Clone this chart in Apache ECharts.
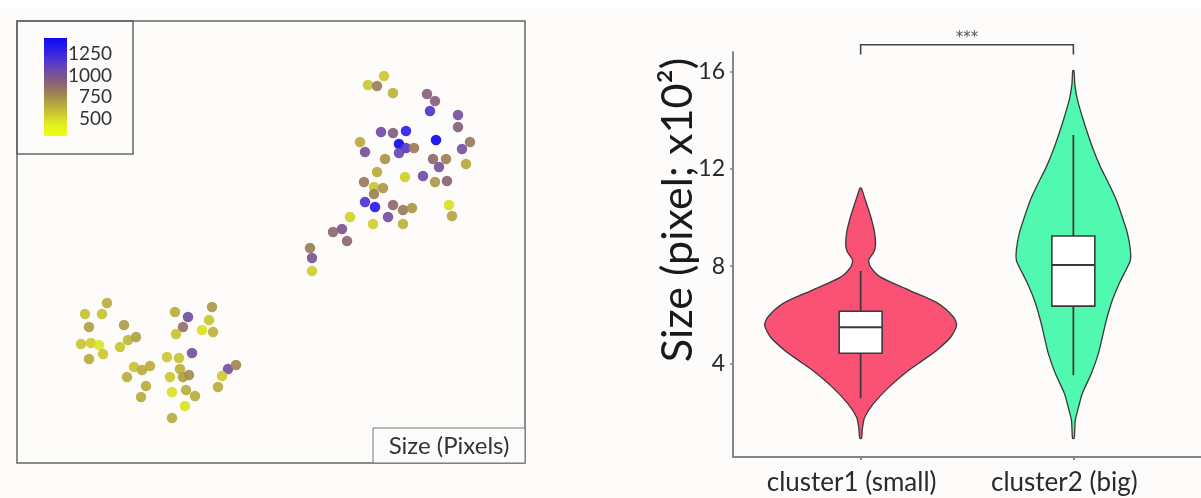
<!DOCTYPE html>
<html><head><meta charset="utf-8">
<script src="https://cdn.jsdelivr.net/npm/echarts@6/dist/echarts.min.js"></script>
<style>html,body{margin:0;padding:0;background:#fff}#c{width:1201px;height:498px}</style>
</head><body><div id="c"></div>
<script>
// ---- Left panel: t-SNE style embedding, coloured by object size (pixels) ----
const tsneX = [367,351,360,376,410,418,413,441,441,364,376,389,343,382,389,397,419,453,445,348,382,368,416,429,422,449,360,388,406,347,418,430,357,366,357,348,358,376,386,395,432,435,333,356,371,386,316,325,330,293,295,295,
  90,68,85,72,107,158,171,195,192,166,185,196,159,64,74,82,86,72,103,111,119,150,162,175,117,125,133,110,129,124,153,163,166,172,211,219,205,201,155,169,178,168,155];
const tsneY = [387,378,377,370,369,362,352,348,336,331,330,332,321,319,315,315,323,321,314,311,310,304,304,304,296,299,291,286,287,281,281,282,276,275,269,261,256,258,253,255,258,247,246,239,246,239,231,234,222,215,205,192,
  160,149,149,136,138,151,146,156,143,136,133,131,129,119,120,118,109,104,116,123,126,106,105,110,96,93,97,86,77,66,86,94,86,88,94,98,87,76,71,73,67,57,45];
const sizePx = [560,560,800,640,930,930,1180,1030,940,1060,950,1300,660,1440,1150,810,1440,830,1030,1020,1080,740,900,800,1010,670,660,540,1060,820,720,920,570,720,790,1180,1320,900,820,720,480,680,530,540,1040,640,900,1000,900,810,1020,540,
  650,580,580,700,710,650,1050,720,570,850,480,640,580,570,540,460,560,660,570,620,700,560,580,1030,580,660,650,650,660,660,560,640,700,760,1030,780,550,660,480,650,650,470,660];
const colorbarTicks = [500, 750, 1000, 1250];
const colorRange = [300, 1440];
const sizeColors = ['#eeff10','#e2f01e','#ccca30','#b4a540','#9c7d58','#86607a','#6e4ca8','#4c34d0','#2a1cec','#1008f4'];

// ---- Right panel: violin + box plots ----
const clusters = ['cluster1 (small)', 'cluster2 (big)'];
const clusterPos = [1, 2];
const yTicks = [4, 8, 12, 16];
// density outline: value levels and half widths (x-axis units)
const violinLevels = [
  [11.21,10.72,10.02,9.36,8.87,8.58,8.25,7.96,7.55,7.02,6.48,5.90,5.57,5.08,4.54,4.13,3.72,3.02,2.36,1.79,1.37,0.93],
  [16.03,15.45,14.84,14.14,13.48,12.78,12.08,11.42,10.72,10.02,9.36,8.67,8.25,7.96,7.30,6.60,5.78,5.08,4.42,3.60,2.77,2.20,1.66,0.93]
];
const violinHalfWidth = [
  [0.003,0.022,0.048,0.066,0.070,0.062,0.038,0.047,0.094,0.226,0.362,0.437,0.451,0.423,0.357,0.292,0.226,0.132,0.061,0.019,0.009,0.004],
  [0.003,0.007,0.019,0.042,0.066,0.094,0.127,0.165,0.202,0.230,0.254,0.268,0.268,0.254,0.216,0.183,0.155,0.136,0.118,0.085,0.042,0.024,0.009,0.004]
];
const whiskerLow = [2.57, 3.52];
const boxQ1 = [4.42, 6.36];
const boxMedian = [5.49, 8.05];
const boxQ3 = [6.15, 9.24];
const whiskerHigh = [7.80, 13.39];
const significance = '***';
const bracketLevel = 17.1;
const bracketDrop = 16.7;

const violinFill = ['#fa5275', '#50f8b0'];
const FONT = 'Lato';

const chart = echarts.init(document.getElementById('c'));

const scatterData = tsneX.map((x, i) => [x, tsneY[i], sizePx[i]]);

chart.setOption({
  backgroundColor: '#fdfcfb',
  animation: false,
  textStyle: { fontFamily: FONT },
  visualMap: {
    show: false, type: 'continuous', seriesIndex: 0, dimension: 2,
    min: colorRange[0], max: colorRange[1],
    inRange: { color: sizeColors }
  },
  grid: [
    { left: 17, top: 21, width: 508, height: 442, show: true, borderColor: '#666', borderWidth: 1.5, backgroundColor: 'transparent' },
    { left: 44, top: 38, width: 23, height: 98 },
    { left: 733, top: 52, right: 0, bottom: 41 }
  ],
  xAxis: [
    { gridIndex: 0, type: 'value', min: 0, max: 508, show: false },
    { gridIndex: 1, type: 'value', min: 0, max: 1, show: false },
    { gridIndex: 2, type: 'value', min: 0.4, max: 2.6,
      axisLine: { show: true, lineStyle: { color: '#85858b', width: 2 } },
      axisTick: { show: true, customValues: clusterPos, length: 3, lineStyle: { color: '#85858b', width: 2 } },
      axisLabel: { customValues: clusterPos, formatter: v => clusters[clusterPos.indexOf(v)] || '', color: '#2a2a2a', fontSize: 26, margin: 13, fontFamily: FONT, padding: [0, 18, 0, 0] },
      splitLine: { show: false } }
  ],
  yAxis: [
    { gridIndex: 0, type: 'value', min: 0, max: 442, show: false },
    { gridIndex: 1, type: 'value', min: colorRange[0], max: colorRange[1], position: 'right',
      axisLine: { show: false }, axisTick: { show: false }, splitLine: { show: false },
      axisLabel: { customValues: colorbarTicks, formatter: v => String(v), align: 'right', margin: 45, color: '#333', fontSize: 19, fontFamily: FONT } },
    { gridIndex: 2, type: 'value', min: 0.16, max: 16.8,
      axisLine: { show: true, lineStyle: { color: '#85858b', width: 2 } },
      axisTick: { show: true, customValues: yTicks, length: 3, lineStyle: { color: '#85858b', width: 1.5 } },
      axisLabel: { customValues: yTicks, color: '#2a2a2a', fontSize: 23, margin: 8, fontFamily: FONT },
      splitLine: { show: false } }
  ],
  graphic: [
    { type: 'rect', shape: { x: 0, y: 0, width: 1201, height: 9 }, style: { fill: '#ffffff' }, silent: true },
    { type: 'rect', shape: { x: 17, y: 21, width: 116, height: 133 }, style: { fill: 'none', stroke: '#666', lineWidth: 1.5 }, silent: true },
    { type: 'rect', shape: { x: 373, y: 428, width: 152, height: 35 }, style: { fill: '#fdfcfb', stroke: '#777', lineWidth: 1 }, silent: true },
    { type: 'text', x: 449, y: 446, style: { text: 'Size (Pixels)', fill: '#333', font: '24px ' + FONT, textAlign: 'center', textVerticalAlign: 'middle' }, silent: true },
    { type: 'text', x: 678, y: 210, rotation: Math.PI / 2, style: { text: 'Size (pixel; x10²)', fill: '#1a1a1a', font: '43px ' + FONT, textAlign: 'center', textVerticalAlign: 'middle' }, silent: true }
  ],
  series: [
    { type: 'scatter', xAxisIndex: 0, yAxisIndex: 0, data: scatterData, symbolSize: 10.5,
      itemStyle: { opacity: 0.92 } },
    { type: 'custom', xAxisIndex: 1, yAxisIndex: 1, data: [[0, colorRange[0]]],
      renderItem: (params, api) => {
        const p0 = api.coord([0, colorRange[0]]);
        const p1 = api.coord([1, colorRange[1]]);
        const stops = sizeColors.map((c, i) => ({ offset: 1 - i / (sizeColors.length - 1), color: c }));
        return { type: 'rect', shape: { x: p0[0], y: p1[1], width: p1[0] - p0[0], height: p0[1] - p1[1] },
          style: { fill: new echarts.graphic.LinearGradient(0, 0, 0, 1, stops) } };
      } },
    { type: 'custom', xAxisIndex: 2, yAxisIndex: 2, data: clusterPos.map(v => [v, boxMedian[clusterPos.indexOf(v)]]),
      renderItem: (params, api) => {
        const i = params.dataIndex, cx = clusterPos[i];
        const lv = violinLevels[i], hw = violinHalfWidth[i];
        const pts = [];
        for (let k = 0; k < lv.length; k++) pts.push(api.coord([cx + hw[k], lv[k]]));
        for (let k = lv.length - 1; k >= 0; k--) pts.push(api.coord([cx - hw[k], lv[k]]));
        const bw = 0.101;
        const a = api.coord([cx - bw, boxQ3[i]]), b = api.coord([cx + bw, boxQ1[i]]);
        const m0 = api.coord([cx - bw, boxMedian[i]]), m1 = api.coord([cx + bw, boxMedian[i]]);
        const w0 = api.coord([cx, whiskerLow[i]]), w1 = api.coord([cx, whiskerHigh[i]]);
        return { type: 'group', children: [
          { type: 'polygon', shape: { points: pts, smooth: 0.25 }, style: { fill: violinFill[i], stroke: '#3a3a3a', lineWidth: 1.3 } },
          { type: 'line', shape: { x1: w0[0], y1: w0[1], x2: w1[0], y2: w1[1] }, style: { stroke: '#3a3a3a', lineWidth: 1.8 } },
          { type: 'rect', shape: { x: a[0], y: a[1], width: b[0] - a[0], height: b[1] - a[1] }, style: { fill: '#ffffff', stroke: '#3a3a3a', lineWidth: 1.6 } },
          { type: 'line', shape: { x1: m0[0], y1: m0[1], x2: m1[0], y2: m1[1] }, style: { stroke: '#3a3a3a', lineWidth: 2 } }
        ] };
      } },
    { type: 'custom', xAxisIndex: 2, yAxisIndex: 2, clip: false, data: [[clusterPos[0], bracketLevel]],
      renderItem: (params, api) => {
        const l0 = api.coord([clusterPos[0], bracketDrop]), l1 = api.coord([clusterPos[0], bracketLevel]);
        const r1 = api.coord([clusterPos[1], bracketLevel]), r0 = api.coord([clusterPos[1], bracketDrop]);
        return { type: 'group', children: [
          { type: 'polyline', shape: { points: [l0, l1, r1, r0] }, style: { fill: 'none', stroke: '#444', lineWidth: 1.6 } },
          { type: 'text', x: (l1[0] + r1[0]) / 2, y: l1[1] - 7, style: { text: significance, fill: '#555', font: '15px "DejaVu Sans"', textAlign: 'center', textVerticalAlign: 'middle' } }
        ] };
      } }
  ]
});
</script></body></html>
